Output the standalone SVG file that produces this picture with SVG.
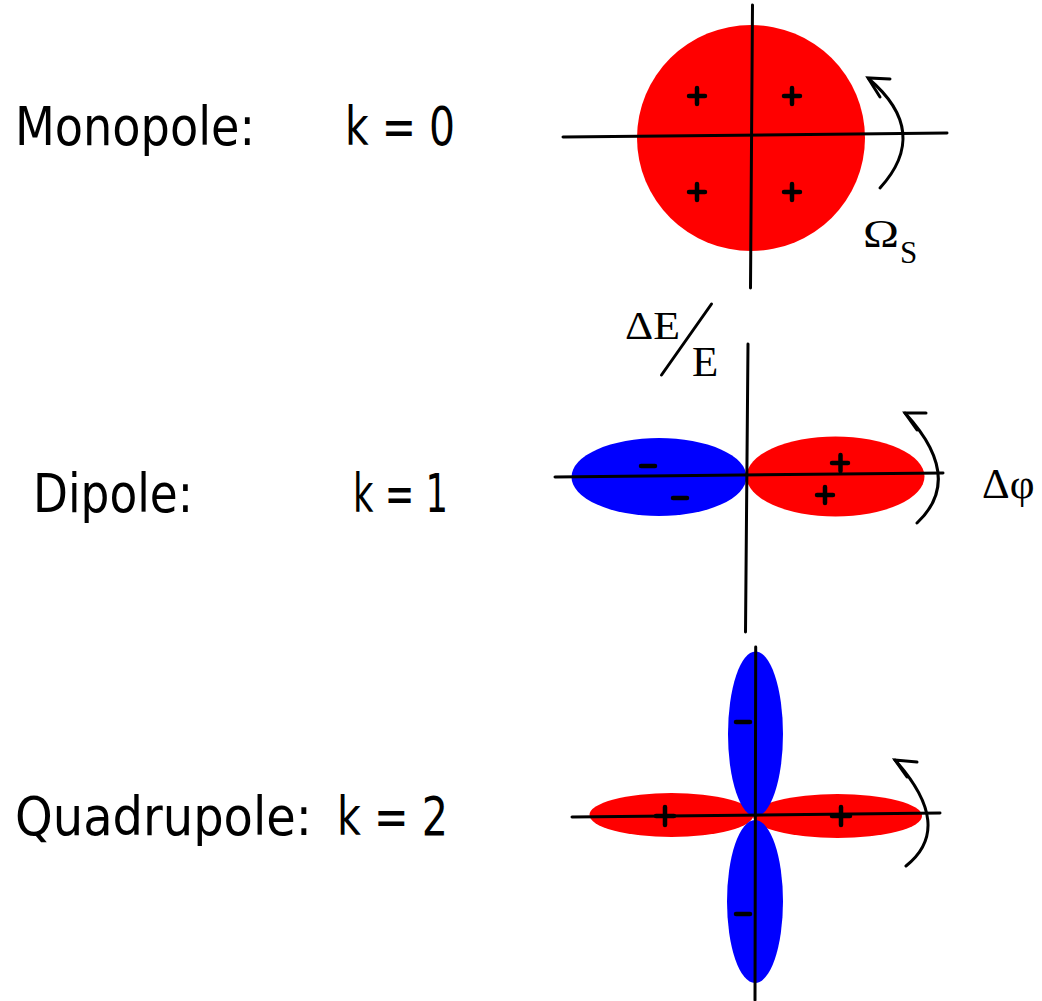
<svg xmlns="http://www.w3.org/2000/svg" width="1042" height="1001" viewBox="0 0 1042 1001">
<defs>
<style>
.lbl{font-family:"DejaVu Sans","Open Sans",sans-serif;font-size:54px;fill:#000}
.sym{font-family:"Liberation Serif","Times New Roman",serif;fill:#000}
.ax{stroke:#000;stroke-width:3;fill:none;stroke-linecap:round}
.sg{stroke:#000;stroke-width:4.5;fill:none;stroke-linecap:round}
.arr{stroke:#000;stroke-width:3;fill:none;stroke-linecap:round}
.red{fill:#ff0000}
.blue{fill:#0000ff}
</style>
</defs>
<rect width="1042" height="1001" fill="#fff"/>

<g id="labels">
<text class="lbl" x="15" y="145" textLength="240" lengthAdjust="spacingAndGlyphs">Monopole:</text>
<text class="lbl" x="345" y="145" textLength="110" lengthAdjust="spacingAndGlyphs">k = 0</text>
<text class="lbl" x="33" y="512" textLength="160" lengthAdjust="spacingAndGlyphs">Dipole:</text>
<text class="lbl" x="353" y="512" textLength="95" lengthAdjust="spacingAndGlyphs">k = 1</text>
<text class="lbl" x="15" y="835" textLength="297" lengthAdjust="spacingAndGlyphs">Quadrupole:</text>
<text class="lbl" x="337" y="835" textLength="111" lengthAdjust="spacingAndGlyphs">k = 2</text>
</g>

<g id="monopole">
<ellipse class="red" cx="751" cy="138" rx="114" ry="113"/>
<line class="ax" x1="563" y1="137" x2="947" y2="133"/>
<line class="ax" x1="752.5" y1="5" x2="750.5" y2="288"/>
<path class="sg" d="M689 96H705M697 88V104"/>
<path class="sg" d="M784 96H800M792 88V104"/>
<path class="sg" d="M689 192H705M697 184V200"/>
<path class="sg" d="M784 192H800M792 184V200"/>
<path class="arr" d="M880 188Q931 132 869 79"/>
<path class="arr" d="M890 79L868 78L880 97"/>
<text class="sym" x="863" y="247" font-size="40" textLength="36" lengthAdjust="spacingAndGlyphs">Ω</text>
<text class="sym" x="900" y="263" font-size="31">S</text>
</g>

<g id="dipole">
<ellipse class="blue" cx="659" cy="477" rx="87.5" ry="39"/>
<ellipse class="red" cx="835.5" cy="476.5" rx="89" ry="40"/>
<line class="ax" x1="555" y1="477" x2="943" y2="473"/>
<line class="ax" x1="748" y1="344" x2="745.5" y2="632"/>
<path class="sg" d="M641 466H655"/>
<path class="sg" d="M673 498H687"/>
<path class="sg" d="M832 463H848M840.5 455V471"/>
<path class="sg" d="M817 495H833M825 487V503"/>
<path class="arr" d="M917 523Q965 478 905 413"/>
<path class="arr" d="M926 413L905 413L917 430"/>
<text class="sym" x="625" y="339" font-size="40" textLength="55" lengthAdjust="spacingAndGlyphs">ΔE</text>
<line class="ax" x1="661.5" y1="375" x2="711.5" y2="304" stroke-width="2.5"/>
<text class="sym" x="692" y="376" font-size="43">E</text>
<text class="sym" x="982" y="498" font-size="43">Δφ</text>
</g>

<g id="quadrupole">
<ellipse class="red" cx="671.5" cy="815" rx="82" ry="22"/>
<ellipse class="red" cx="837.5" cy="816" rx="84.5" ry="22"/>
<ellipse class="blue" cx="755.5" cy="734" rx="27.5" ry="82.5"/>
<ellipse class="blue" cx="755" cy="901.5" rx="28" ry="81.5"/>
<line class="ax" x1="572" y1="817" x2="940" y2="813"/>
<line class="ax" x1="755.7" y1="647" x2="755" y2="1000"/>
<path class="sg" d="M736 722H750"/>
<path class="sg" d="M736 914H750"/>
<path class="sg" d="M656 816H674M665 807V825"/>
<path class="sg" d="M832 816H850M841 807V825"/>
<path class="arr" d="M906 866Q955 827 895 760"/>
<path class="arr" d="M917 762L895 760L907 777"/>
</g>
</svg>
